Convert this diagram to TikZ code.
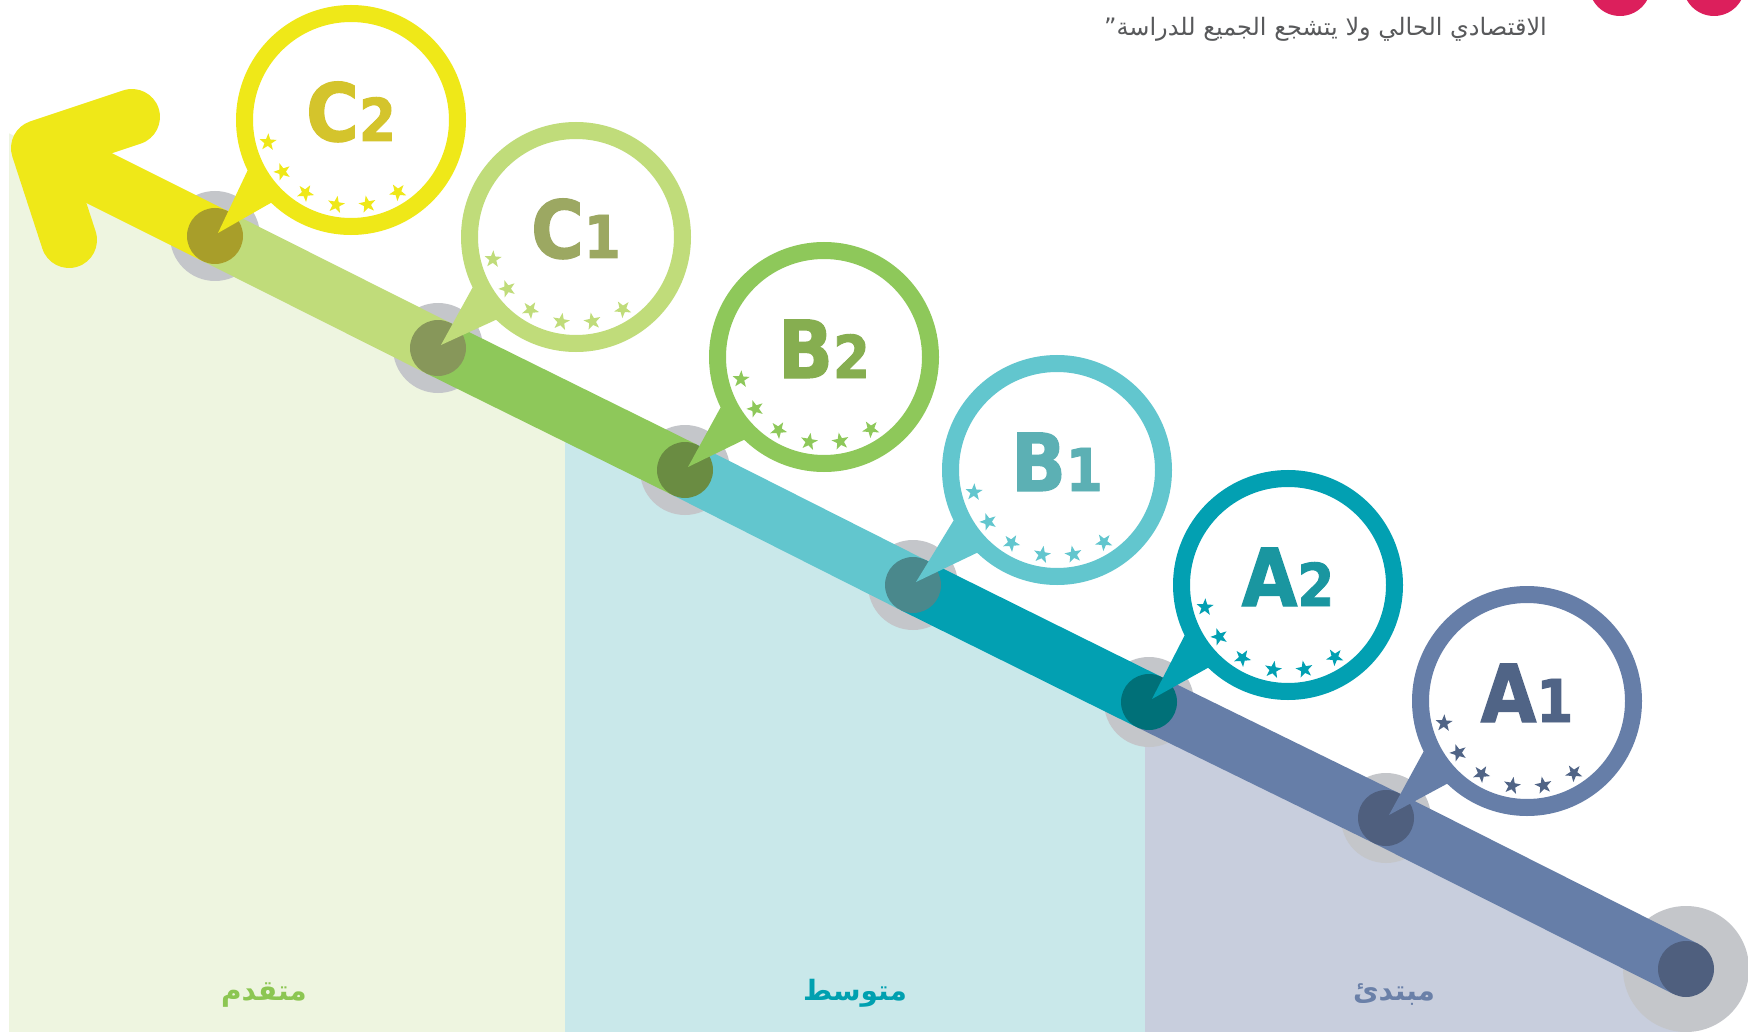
\documentclass[tikz,border=0pt]{standalone}
\usepackage{fontspec}
\usetikzlibrary{shapes.geometric}
\TeXXeTstate=1
\newfontfamily\arabicfont[Script=Arabic]{DejaVu Sans}
\newfontfamily\arabicbold[Script=Arabic]{DejaVu Sans Bold}
\newfontfamily\lvlfont[FakeStretch=0.9,FakeBold=1.6]{DejaVu Sans Bold}
\newcommand\lvldigit[1]{{\fontsize{59}{59}\selectfont #1}}
\definecolor{ringCtwo}{HTML}{EFE818}
\definecolor{textCtwo}{HTML}{D4C42C}
\definecolor{dotCtwo}{HTML}{A89E2A}
\definecolor{ringCone}{HTML}{C0DC7A}
\definecolor{textCone}{HTML}{9CA862}
\definecolor{dotCone}{HTML}{87975A}
\definecolor{ringBtwo}{HTML}{8EC85A}
\definecolor{textBtwo}{HTML}{86AE50}
\definecolor{dotBtwo}{HTML}{6A8C42}
\definecolor{ringBone}{HTML}{62C6CE}
\definecolor{textBone}{HTML}{5CB0B4}
\definecolor{dotBone}{HTML}{4A888C}
\definecolor{ringAtwo}{HTML}{02A0B2}
\definecolor{textAtwo}{HTML}{1A96A0}
\definecolor{dotAtwo}{HTML}{007078}
\definecolor{ringAone}{HTML}{667EA8}
\definecolor{textAone}{HTML}{506486}
\definecolor{dotAone}{HTML}{4F5F7E}
\definecolor{haloGrey}{HTML}{C4C6CA}
\definecolor{panelGreen}{HTML}{EEF5E0}
\definecolor{panelCyan}{HTML}{C9E8EA}
\definecolor{panelLav}{HTML}{C8CEDD}
\definecolor{pinkDot}{HTML}{DC1F5C}
\definecolor{quoteGrey}{HTML}{58595B}
\definecolor{labelGreen}{HTML}{8CC652}
\definecolor{labelTeal}{HTML}{00A0B0}
\definecolor{labelSlate}{HTML}{6A80A8}
\begin{document}
\begin{tikzpicture}[x=1pt,y=1pt,
    seg/.style={line width=56pt},
    arm/.style={draw=ringCtwo, line width=56pt, line cap=round, line join=round},
    bubble/.style={circle, draw=#1, fill=white, line width=17pt, minimum size=213pt},
    lvl/.style={anchor=base, font=\lvlfont\fontsize{80}{80}\selectfont},
    starmark/.style={star, star points=5, star point ratio=2.5, minimum size=18pt, fill=#1},
    bandlabel/.style={anchor=base, font=\arabicbold\fontsize{28}{32}\selectfont}]
            \tikzstyle{every node}+=[inner sep=0pt]
            \fill [white] (0,0) rectangle (1748,-1032);
            \useasboundingbox (0,0) rectangle (1748,-1032);
            \coordinate (c2) at (215,-236);
            \coordinate (c1) at (438,-348);
            \coordinate (b2) at (685,-470);
            \coordinate (b1) at (913,-585);
            \coordinate (a2) at (1149,-702);
            \coordinate (a1) at (1386,-818);
            \coordinate (e) at (1686,-969);
            \coordinate (tip) at (39,-148);
            \coordinate (armU) at (132,-117);
            \coordinate (armL) at (69,-240);
            \fill [panelGreen] (9,-133.3) -- (565,-410.4) -- (565,-1032) -- (9,-1032) -- cycle;
            \fill [panelCyan] (565,-410.4) -- (1145,-699.4) -- (1145,-1032) -- (565,-1032) -- cycle;
            \fill [panelLav] (1145,-699.4) -- (e) -- (1686,-1032) -- (1145,-1032) -- cycle;
            \fill [haloGrey] (c2) circle (45);
            \fill [haloGrey] (c1) circle (45);
            \fill [haloGrey] (b2) circle (45);
            \fill [haloGrey] (b1) circle (45);
            \fill [haloGrey] (a2) circle (45);
            \fill [haloGrey] (a1) circle (45);
            \fill [haloGrey] (e) circle (63);
            \draw [arm] (armU) -- (tip) -- (armL);
            \draw [arm, line cap=butt] (tip) -- (c2);
            \draw [seg, ringCone] (c2) -- (c1);
            \draw [seg, ringBtwo] (c1) -- (b2);
            \draw [seg, ringBone] (b2) -- (b1);
            \draw [seg, ringAtwo] (b1) -- (a2);
            \draw [seg, ringAone] (a2) -- (a1) -- (e);
            \fill [dotCtwo] (c2) circle (28);
            \fill [dotCone] (c1) circle (28);
            \fill [dotBtwo] (b2) circle (28);
            \fill [dotBone] (b1) circle (28);
            \fill [dotAtwo] (a2) circle (28);
            \fill [dotAone] (a1) circle (28);
            \fill [dotAone] (e) circle (28);
            \coordinate (c2b) at (351,-120);
            \coordinate (c1b) at (576,-237);
            \coordinate (b2b) at (824,-357);
            \coordinate (b1b) at (1057,-470);
            \coordinate (a2b) at (1288,-585);
            \coordinate (a1b) at (1527,-701);
            \fill [ringCtwo] ([shift={(3,3)}]c2) -- ([shift={(206:115)}]c2b) -- ([shift={(226:115)}]c2b) -- cycle;
            \node [bubble=ringCtwo] (c2ring) at (c2b) {};
            \node [lvl, text=textCtwo] (c2text) at ([yshift=-21]c2b) {C\lvldigit{2}};
            \foreach \a in {195,217,238,260,281,303}
                \node [starmark=ringCtwo, rotate=\a+90] at ([shift={(\a:86)}]c2b) {};
            \fill [ringCone] ([shift={(3,3)}]c1) -- ([shift={(206:115)}]c1b) -- ([shift={(226:115)}]c1b) -- cycle;
            \node [bubble=ringCone] (c1ring) at (c1b) {};
            \node [lvl, text=textCone] (c1text) at ([yshift=-21]c1b) {C\lvldigit{1}};
            \foreach \a in {195,217,238,260,281,303}
                \node [starmark=ringCone, rotate=\a+90] at ([shift={(\a:86)}]c1b) {};
            \fill [ringBtwo] ([shift={(3,3)}]b2) -- ([shift={(206:115)}]b2b) -- ([shift={(226:115)}]b2b) -- cycle;
            \node [bubble=ringBtwo] (b2ring) at (b2b) {};
            \node [lvl, text=textBtwo] (b2text) at ([yshift=-21]b2b) {B\lvldigit{2}};
            \foreach \a in {195,217,238,260,281,303}
                \node [starmark=ringBtwo, rotate=\a+90] at ([shift={(\a:86)}]b2b) {};
            \fill [ringBone] ([shift={(3,3)}]b1) -- ([shift={(206:115)}]b1b) -- ([shift={(226:115)}]b1b) -- cycle;
            \node [bubble=ringBone] (b1ring) at (b1b) {};
            \node [lvl, text=textBone] (b1text) at ([yshift=-21]b1b) {B\lvldigit{1}};
            \foreach \a in {195,217,238,260,281,303}
                \node [starmark=ringBone, rotate=\a+90] at ([shift={(\a:86)}]b1b) {};
            \fill [ringAtwo] ([shift={(3,3)}]a2) -- ([shift={(206:115)}]a2b) -- ([shift={(226:115)}]a2b) -- cycle;
            \node [bubble=ringAtwo] (a2ring) at (a2b) {};
            \node [lvl, text=textAtwo] (a2text) at ([yshift=-21]a2b) {A\lvldigit{2}};
            \foreach \a in {195,217,238,260,281,303}
                \node [starmark=ringAtwo, rotate=\a+90] at ([shift={(\a:86)}]a2b) {};
            \fill [ringAone] ([shift={(3,3)}]a1) -- ([shift={(206:115)}]a1b) -- ([shift={(226:115)}]a1b) -- cycle;
            \node [bubble=ringAone] (a1ring) at (a1b) {};
            \node [lvl, text=textAone] (a1text) at ([yshift=-21]a1b) {A\lvldigit{1}};
            \foreach \a in {195,217,238,260,281,303}
                \node [starmark=textAone, rotate=\a+90] at ([shift={(\a:86)}]a1b) {};
            \node [bandlabel, text=labelGreen] (advanced) at (264,-1000) {\beginR متقدم\endR};
            \node [bandlabel, text=labelTeal] (intermediate) at (855,-1000) {\beginR متوسط\endR};
            \node [bandlabel, text=labelSlate] (beginner) at (1394,-1000) {\beginR مبتدئ\endR};
            \node [anchor=base east, text=quoteGrey, font=\arabicfont\fontsize{24}{28}\selectfont] (quote) at (1547,-36) {\beginR الاقتصادي الحالي ولا يتشجع الجميع للدراسة”\endR};
            \fill [pinkDot] (1620,15) circle (31);
            \fill [pinkDot] (1714,15) circle (31);
        \end{tikzpicture}
\end{document}
